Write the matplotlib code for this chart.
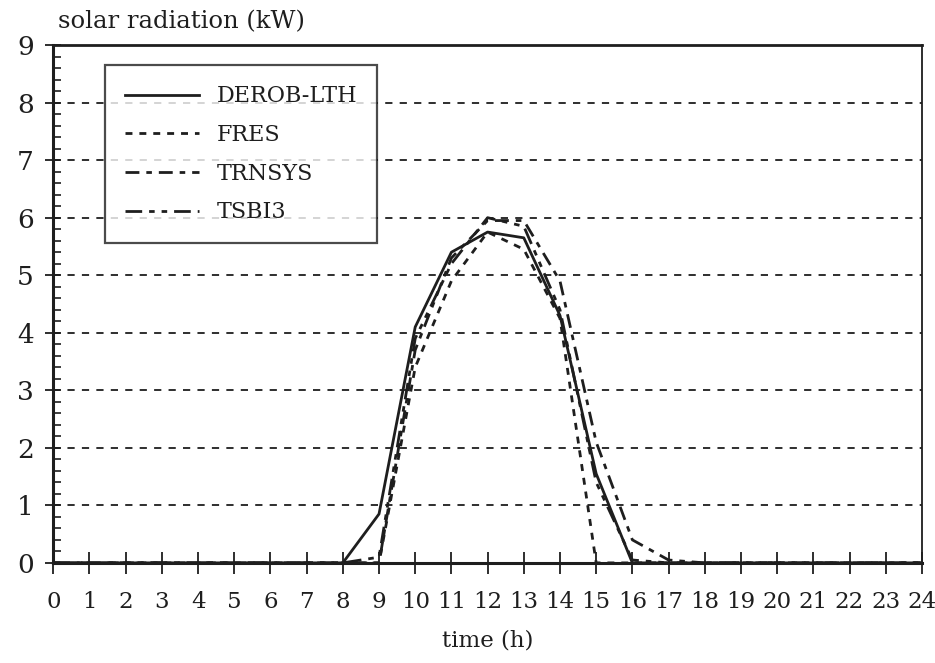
import numpy as np
import matplotlib.pyplot as plt
from matplotlib.ticker import MultipleLocator

plt.rcParams['font.family'] = ['DejaVu Serif']

# hourly values (kW)
hours = list(range(25))
derob = [0, 0, 0, 0, 0, 0, 0, 0, 0, 0.85, 4.1, 5.4, 5.75, 5.65, 4.3, 1.55, 0,
         0, 0, 0, 0, 0, 0, 0, 0]
fres = [0, 0, 0, 0, 0, 0, 0, 0, 0, 0, 3.4, 4.9, 5.75, 5.45, 4.25, 0, 0,
        0, 0, 0, 0, 0, 0, 0, 0]
trnsys = [0, 0, 0, 0, 0, 0, 0, 0, 0, 0, 3.7, 5.3, 5.95, 5.95, 4.9, 2.1, 0.4,
          0.05, 0, 0, 0, 0, 0, 0, 0]
tsbi3 = [0, 0, 0, 0, 0, 0, 0, 0, 0, 0.1, 3.9, 5.2, 6.0, 5.85, 4.4, 1.4, 0.05,
         0, 0, 0, 0, 0, 0, 0, 0]
labels = ['DEROB-LTH', 'FRES', 'TRNSYS', 'TSBI3']

fig = plt.figure(figsize=(9.35, 6.63), dpi=100)
ax = fig.add_axes([0.057, 0.151, 0.929, 0.781])

c = '#1e1e1e'
ax.plot(hours, derob, color=c, lw=2.0, ls='-', label=labels[0])
ax.plot(hours, fres, color=c, lw=2.0, ls=(0, (2.5, 2.5)), label=labels[1])
ax.plot(hours, trnsys, color=c, lw=2.0, ls=(0, (5, 2.5, 2, 2.5)), label=labels[2])
ax.plot(hours, tsbi3, color=c, lw=2.0, ls=(0, (6, 2.5, 2, 2.5, 2, 2.5)), label=labels[3])

ax.set_xlim(0, 24)
ax.set_ylim(0, 9)
ax.xaxis.set_major_locator(MultipleLocator(1))
ax.yaxis.set_major_locator(MultipleLocator(1))
ax.yaxis.set_minor_locator(MultipleLocator(0.2))
ax.tick_params(axis='x', direction='inout', length=16, width=1.3, color=c,
               labelsize=16.5, pad=12, labelcolor=c)
ax.tick_params(axis='y', which='major', direction='inout', length=12, width=1.3,
               color=c, labelsize=19, labelcolor=c, pad=8)
ax.tick_params(axis='y', which='minor', direction='in', length=6, width=1.2, color=c)
ax.tick_params(top=False, right=False)

for y in range(1, 9):
    ax.axhline(y, color=c, lw=1.3, ls=(0, (4, 4)), zorder=0)

for s in ax.spines.values():
    s.set_color(c)
    s.set_linewidth(1.3)
ax.spines['bottom'].set_linewidth(2.2)
ax.spines['left'].set_linewidth(2.2)
ax.spines['top'].set_linewidth(2.0)

ax.set_xlabel('time (h)', fontsize=16.5, color=c, labelpad=12)
fig.text(0.062, 0.968, 'solar radiation (kW)', fontsize=17.5, color=c,
         ha='left', va='center')

leg = ax.legend(loc='upper left', bbox_to_anchor=(0.06, 0.961), fontsize=16,
                handlelength=3.3, frameon=True, fancybox=False,
                borderpad=0.9, labelspacing=0.75, handletextpad=0.8,
                borderaxespad=0)
leg.get_frame().set_edgecolor(c)
leg.get_frame().set_linewidth(1.6)
for t in leg.get_texts():
    t.set_color(c)

fig.savefig('out.png', dpi=100)
